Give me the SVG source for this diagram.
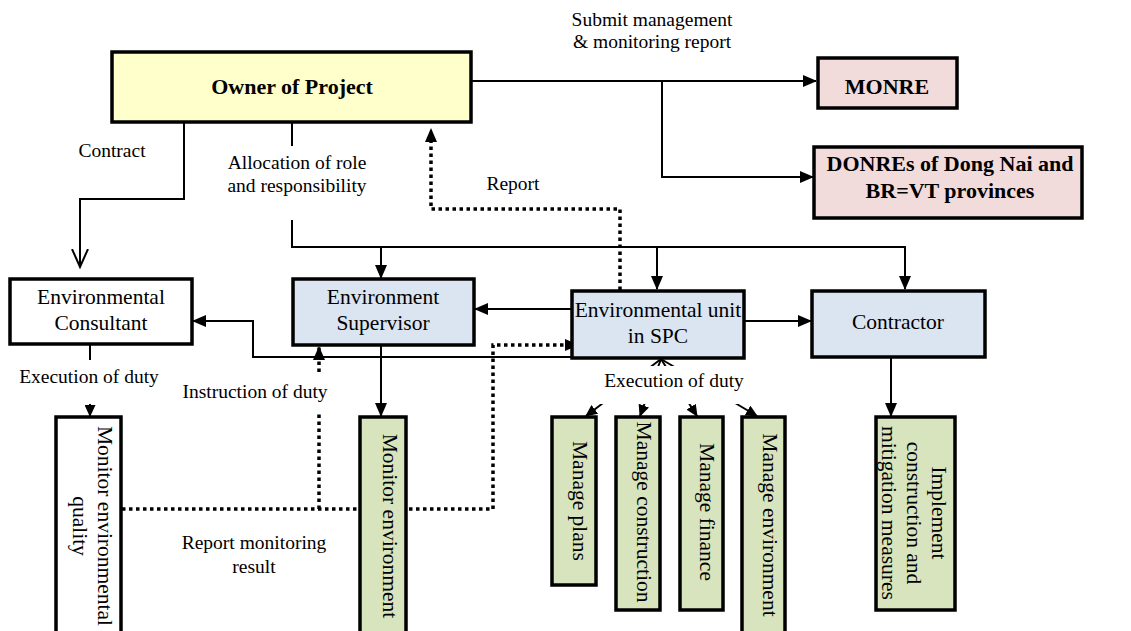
<svg xmlns="http://www.w3.org/2000/svg" width="1131" height="631" viewBox="0 0 1131 631" font-family="'Liberation Serif', 'Times New Roman', Tinos, 'DejaVu Serif', serif">
<style>
.box{stroke:#000;stroke-width:3.5}
.yel{fill:#FFFFCC}.pink{fill:#F2DCDB}.blue{fill:#DBE5F1}.green{fill:#D7E4BD}.white{fill:#fff}
.t{font-family:'Liberation Serif','Times New Roman',Tinos,'DejaVu Serif',serif;font-size:21.5px;fill:#000;text-anchor:middle}
.b{font-weight:bold;font-size:22px}
.l{font-family:'Liberation Serif','Times New Roman',Tinos,'DejaVu Serif',serif;font-size:19.5px;fill:#000;text-anchor:middle}
.c{fill:none;stroke:#000;stroke-width:2}
.d{fill:none;stroke:#000;stroke-width:3.5;stroke-dasharray:3.5 3.5}
</style>
<defs>
<marker id="a" markerUnits="userSpaceOnUse" markerWidth="14" markerHeight="12" refX="13" refY="6" orient="auto" viewBox="0 0 14 12"><path d="M0,0 L14,6 L0,12 z" fill="#000"/></marker>
<marker id="s" markerUnits="userSpaceOnUse" markerWidth="12" markerHeight="11" refX="11" refY="5.5" orient="auto" viewBox="0 0 12 11"><path d="M0,0 L12,5.5 L0,11 z" fill="#000"/></marker>
<marker id="o" markerUnits="userSpaceOnUse" markerWidth="20" markerHeight="20" refX="18" refY="9" orient="auto" viewBox="0 0 20 20"><path d="M0,1 L18,9 L0,17" fill="none" stroke="#000" stroke-width="2"/></marker>
</defs>

<g id="connectors">
<path class="c" d="M472,81 H816" marker-end="url(#a)"/>
<path class="c" d="M662,81 V177 H813" marker-end="url(#a)"/>
<path class="c" d="M184,123 V199 H80 V267" marker-end="url(#o)"/>
<path class="c" d="M292,123 V146"/>
<path class="c" d="M292,220 V247 H905 V289" marker-end="url(#a)"/>
<path class="c" d="M381,247 V278" marker-end="url(#a)"/>
<path class="c" d="M657,247 V289" marker-end="url(#a)"/>
<path class="d" d="M620,290 V209 H431 V129" marker-end="url(#a)"/>
<path class="c" d="M572,309 H475" marker-end="url(#a)"/>
<path class="c" d="M744,321 H811" marker-end="url(#a)"/>
<path class="c" d="M572,357 H253 V321 H193" marker-end="url(#a)"/>
<path class="c" d="M381,345 V416" marker-end="url(#a)"/>
<path class="c" d="M891,357 V416" marker-end="url(#a)"/>
<path class="c" d="M90,344 V360"/>
<path class="c" d="M90,404 V416" marker-end="url(#s)"/>
<path class="d" d="M319,372 V347" marker-end="url(#a)"/>
<path class="d" d="M319,509 V413"/>
<path class="d" d="M122,509 H493 V345 H578" marker-end="url(#a)"/>
<path class="c" d="M661,359 L586,416" marker-end="url(#s)"/>
<path class="c" d="M661,359 L640,416" marker-end="url(#s)"/>
<path class="c" d="M661,359 L697,416" marker-end="url(#s)"/>
<path class="c" d="M661,359 L757,416" marker-end="url(#s)"/>
<rect x="590" y="366" width="170" height="38" fill="#fff"/>
</g>

<g id="labels">
<text class="l" x="652" y="26">Submit management</text>
<text class="l" x="652" y="48">&amp; monitoring report</text>
<text class="l" x="112" y="157">Contract</text>
<text class="l" x="297" y="169">Allocation of role</text>
<text class="l" x="297" y="192">and responsibility</text>
<text class="l" x="513" y="190">Report</text>
<text class="l" x="89" y="383">Execution of duty</text>
<text class="l" x="255" y="398">Instruction of duty</text>
<text class="l" x="674" y="387">Execution of duty</text>
<text class="l" x="254" y="549">Report monitoring</text>
<text class="l" x="254" y="573">result</text>
</g>

<g id="owner"><rect class="box yel" x="112" y="52" width="359" height="70"/><text class="t b" x="292" y="94">Owner of Project</text></g>
<g id="monre"><rect class="box pink" x="818" y="58" width="139" height="50"/><text class="t b" x="887" y="94">MONRE</text></g>
<g id="donres"><rect class="box pink" x="814" y="147" width="268" height="71"/><text class="t b" x="950" y="171">DONREs of Dong Nai and</text><text class="t b" x="950" y="198">BR=VT provinces</text></g>
<g id="consultant"><rect class="box white" x="10" y="279" width="182" height="65"/><text class="t" x="101" y="304">Environmental</text><text class="t" x="101" y="330">Consultant</text></g>
<g id="supervisor"><rect class="box blue" x="293" y="279" width="181" height="66"/><text class="t" x="383" y="304">Environment</text><text class="t" x="383" y="330">Supervisor</text></g>
<g id="envunit"><rect class="box blue" x="572" y="291" width="172" height="67"/><text class="t" x="658" y="317">Environmental unit</text><text class="t" x="658" y="343">in SPC</text></g>
<g id="contractor"><rect class="box blue" x="812" y="291" width="173" height="66"/><text class="t" x="898" y="329">Contractor</text></g>
<g id="meq"><rect class="box white" x="56" y="417" width="65" height="230"/><text class="t" transform="rotate(90 97.5 526)" x="97.5" y="526">Monitor environmental</text><text class="t" transform="rotate(90 97.5 526)" x="97.5" y="551">quality</text></g>
<g id="monenv"><rect class="box green" x="360" y="417" width="46" height="230"/><text class="t" transform="rotate(90 382.5 526)" x="382.5" y="526">Monitor environment</text></g>
<g id="plans"><rect class="box green" x="552" y="417" width="44" height="168"/><text class="t" transform="rotate(90 572.5 501)" x="572.5" y="501">Manage plans</text></g>
<g id="construction"><rect class="box green" x="616" y="417" width="44" height="193"/><text class="t" transform="rotate(90 636.5 512)" x="636.5" y="512">Manage construction</text></g>
<g id="finance"><rect class="box green" x="680" y="417" width="43" height="193"/><text class="t" transform="rotate(90 699.5 512)" x="699.5" y="512">Manage finance</text></g>
<g id="environment"><rect class="box green" x="742" y="417" width="43" height="230"/><text class="t" transform="rotate(90 762.5 525)" x="762.5" y="525">Manage environment</text></g>
<g id="implement"><rect class="box green" x="876" y="417" width="79" height="193"/><text class="t" transform="rotate(90 932 513)" x="932" y="513">Implement</text><text class="t" transform="rotate(90 932 513)" x="932" y="538">construction and</text><text class="t" transform="rotate(90 932 513)" x="932" y="563">mitigation measures</text></g>
</svg>
